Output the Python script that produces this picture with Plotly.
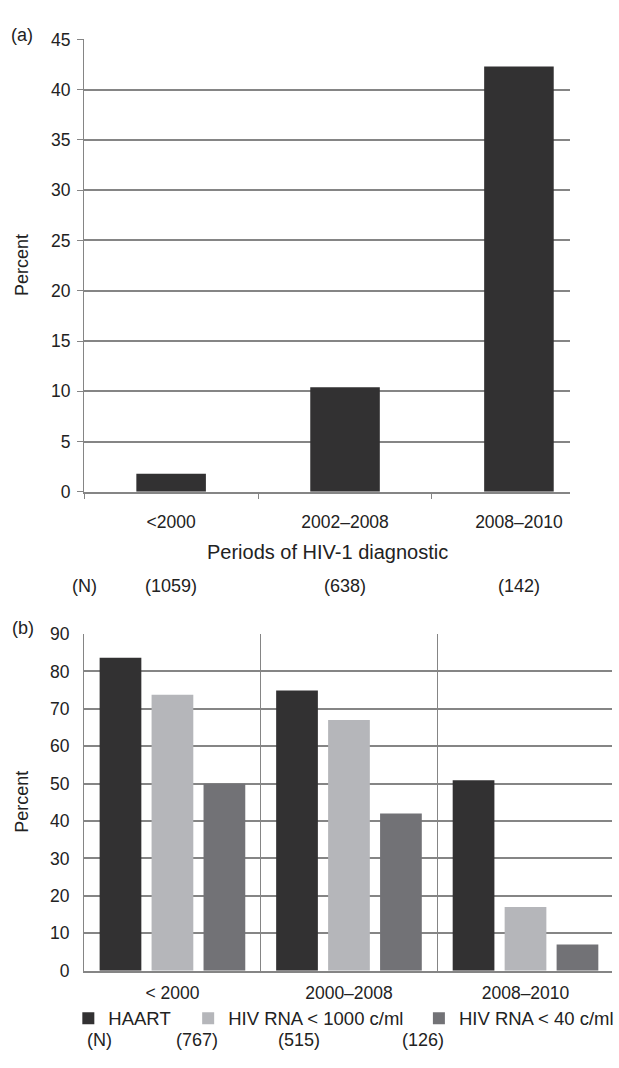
import plotly.graph_objects as go

W, H = 619, 1068

# ---- data ----
cats_a = ["<2000", "2002–2008", "2008–2010"]
pct_a = [1.8, 10.4, 42.3]
n_a = ["(1059)", "(638)", "(142)"]
yticks_a = list(range(0, 50, 5))

cats_b = ["< 2000", "2000–2008", "2008–2010"]
haart = [83.7, 74.9, 50.9]
rna1000 = [73.8, 67.0, 17.0]
rna40 = [50.0, 42.0, 7.0]
series_names = ["HAART", "HIV RNA < 1000 c/ml", "HIV RNA < 40 c/ml"]
n_b = ["(767)", "(515)", "(126)"]
yticks_b = list(range(0, 100, 10))

DARK = "#323132"
LIGHT = "#b5b6ba"
MID = "#727276"
GRID = "#858585"
TXT = "#222222"
FONT = "Liberation Sans"


def f(size):
    return dict(family=FONT, size=size, color=TXT)


TICK = f(17.5)
LEG = f(18.5)
NFONT = f(18)
LAB = f(18)
TITLE = f(20)


def px(x):
    return x / W


def py(y):
    return 1 - y / H


fig = go.Figure()

# panel (a)
fig.add_trace(go.Bar(x=cats_a, y=pct_a, marker=dict(color=DARK, line=dict(width=0)),
                     width=0.4, xaxis="x", yaxis="y", showlegend=False))

# panel (b)
colors_b = [DARK, LIGHT, MID]
vals_b = [haart, rna1000, rna40]
legends = ["legend", "legend2", "legend3"]
for name, vals, col, lg in zip(series_names, vals_b, colors_b, legends):
    fig.add_trace(go.Bar(x=cats_b, y=vals, name=name, marker=dict(color=col, line=dict(width=0)),
                         xaxis="x2", yaxis="y2", legend=lg))

legend_common = dict(orientation="h", font=LEG, bgcolor="rgba(0,0,0,0)",
                     borderwidth=0, yanchor="middle", xanchor="left",
                     y=py(1028), itemclick=False)

fig.update_layout(
    width=W, height=H,
    margin=dict(l=0, r=0, t=0, b=0),
    paper_bgcolor="white", plot_bgcolor="white",
    barmode="group", bargap=0.117, bargroupgap=0.197,
    font=TICK,
    xaxis=dict(domain=[px(85), px(576)], anchor="y", type="category",
               range=[-0.5, 2.296], tickson="boundaries", ticks="outside",
               ticklen=5, tickcolor=GRID, tickwidth=1.3, showgrid=False,
               showline=True, linecolor=GRID, linewidth=1.5,
               ticklabelstandoff=13, tickfont=TICK),
    yaxis=dict(domain=[py(491), py(30)], anchor="x", range=[0, 45],
               tickvals=yticks_a, ticks="outside", ticklen=6, tickcolor=GRID,
               tickwidth=1.3, showgrid=True, gridcolor=GRID, gridwidth=1.6,
               zeroline=False, showline=True, linecolor=GRID, linewidth=1.3,
               ticklabelstandoff=3, tickfont=TICK),
    xaxis2=dict(domain=[px(85), px(618)], anchor="y2", type="category",
                range=[-0.5, 2.49], tickson="boundaries", ticks="",
                showgrid=True, gridcolor=GRID, gridwidth=1.3,
                showline=True, linecolor=GRID, linewidth=1.5,
                ticklabelstandoff=6, tickfont=TICK),
    yaxis2=dict(domain=[py(979), py(636)], anchor="x2", range=[0, 90],
                tickvals=yticks_b, ticks="", showgrid=True, gridcolor=GRID,
                gridwidth=1.6, zeroline=False, showline=True, linecolor=GRID,
                linewidth=1.3, ticklabelstandoff=10, tickfont=TICK),
    legend=dict(x=px(69), **legend_common),
    legend2=dict(x=px(190), **legend_common),
    legend3=dict(x=px(423), **legend_common),
)

ann = []


def text(x, y, s, font, angle=0, xref="paper"):
    ann.append(dict(x=x, y=py(y), xref=xref, yref="paper", text=s, showarrow=False,
                    xanchor="center", yanchor="middle", textangle=angle,
                    font=font))


text(px(22), 25, "(a)", LAB)
text(px(23), 630, "(b)", LAB)
text(px(22), 260, "Percent", LAB, angle=-90)
text(px(22), 807, "Percent", LAB, angle=-90)
text(px(330.5), 552, "Periods of HIV-1 diagnostic", TITLE)
text(px(85), 587, "(N)", NFONT)
for c, n in zip(cats_a, n_a):
    text(c, 587, n, NFONT, xref="x")
text(px(100), 1050, "(N)", NFONT)
for xpos, n in zip([199, 302, 427], n_b):
    text(px(xpos), 1050, n, NFONT)

fig.update_layout(annotations=ann)

fig.write_html("out.html")
